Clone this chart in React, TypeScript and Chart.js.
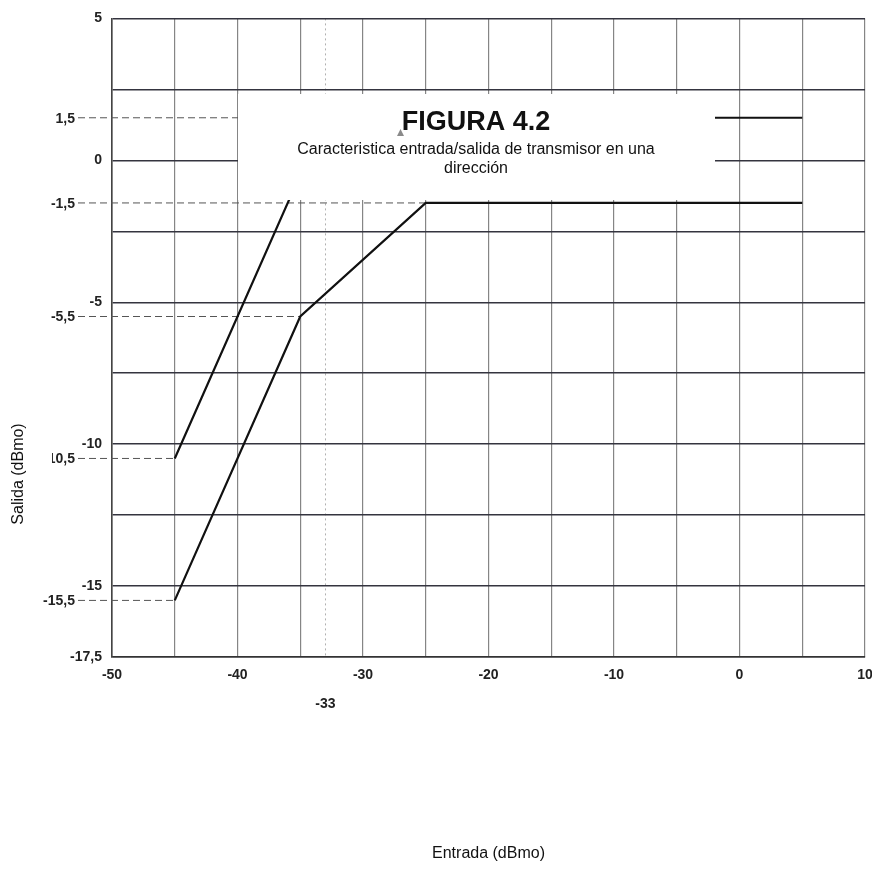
import React, { useEffect, useRef } from 'react';
import { Chart, registerables } from 'chart.js';

Chart.register(...registerables);

// ---- data ----
const xMin = -50;
const xMax = 10;
const yMin = -17.5;
const yMax = 5;
const xLabelTicks = [-50, -40, -30, -20, -10, 0, 10];
const xExtraTicks = [-33];
const yLabelTicks = [5, 0, -5, -10, -15, -17.5];
const levelValues = [1.5, -1.5, -5.5, -10.5, -15.5];
const levelEnds = [-33, -25, -35, -45, -45];

const upperX = [-45, -33, 5];
const upperY = [-10.5, 1.5, 1.5];
const lowerX = [-45, -35, -25, 5];
const lowerY = [-15.5, -5.5, -1.5, -1.5];

const figureTitle = 'FIGURA 4.2';
const figureSubtitle = ['Caracteristica entrada/salida de transmisor en una', 'dirección'];
const yTitle = 'Salida (dBmo)';
const xTitle = 'Entrada (dBmo)';

const fmt = (v: number) => String(v).replace('.', ',');
const SANS = '"Liberation Sans", Arial, Helvetica, sans-serif';
const NARROW = '"Liberation Sans Narrow", "Liberation Sans", Arial, sans-serif';

const noEdgePadding = (s: any) => {
  s.paddingLeft = 0;
  s.paddingRight = 0;
};

const decorPlugin = {
  id: 'decor',
  beforeDatasetsDraw(chart: any) {
    const { ctx, chartArea, scales } = chart;
    const xs = scales.x;
    const ys = scales.y;
    ctx.save();
    levelValues.forEach((v, i) => {
      const py = ys.getPixelForValue(v);
      const px = xs.getPixelForValue(levelEnds[i]);
      ctx.beginPath();
      ctx.setLineDash([7, 4]);
      ctx.strokeStyle = '#555';
      ctx.lineWidth = 1;
      ctx.moveTo(chartArea.left - 34, py);
      ctx.lineTo(px, py);
      ctx.stroke();
      ctx.setLineDash([]);
      ctx.fillStyle = '#222';
      ctx.font = `bold 14px ${NARROW}`;
      ctx.textAlign = 'right';
      ctx.textBaseline = 'middle';
      ctx.fillText(fmt(v), chartArea.left - 37, py + 1);
    });
    ctx.restore();
  },
  afterDraw(chart: any) {
    const { ctx } = chart;
    ctx.save();
    // y axis title with its white backing
    ctx.fillStyle = '#ffffff';
    ctx.fillRect(0, 332, 52, 245);
    ctx.translate(19, 474);
    ctx.rotate(-Math.PI / 2);
    ctx.fillStyle = '#111';
    ctx.font = `16px ${SANS}`;
    ctx.textAlign = 'center';
    ctx.textBaseline = 'middle';
    ctx.fillText(yTitle, 0, 0);
    ctx.restore();

    // figure title box
    ctx.save();
    ctx.fillStyle = '#ffffff';
    ctx.fillRect(238, 94, 477, 106);
    ctx.fillStyle = '#111';
    ctx.textAlign = 'center';
    ctx.textBaseline = 'alphabetic';
    ctx.font = `bold 27px ${SANS}`;
    ctx.fillText(figureTitle, 476, 130);
    ctx.font = `16px ${SANS}`;
    ctx.fillText(figureSubtitle[0], 476, 154);
    ctx.fillText(figureSubtitle[1], 476, 173);
    ctx.fillStyle = '#8a8a8a';
    ctx.beginPath();
    ctx.moveTo(400.5, 129);
    ctx.lineTo(404, 136);
    ctx.lineTo(397, 136);
    ctx.closePath();
    ctx.fill();
    ctx.restore();
  },
};

export default function App() {
  const ref = useRef<HTMLCanvasElement | null>(null);

  useEffect(() => {
    document.body.style.margin = '0';
    document.body.style.background = '#ffffff';
    if (!ref.current) return;
    const tickFont = { family: NARROW, size: 14, weight: 'bold' as const };
    const chart = new Chart(ref.current, {
      type: 'line',
      data: {
        datasets: [
          {
            label: 'upper',
            data: upperX.map((x, i) => ({ x, y: upperY[i] })),
            borderColor: '#111',
            borderWidth: 2.2,
            pointRadius: 0,
            tension: 0,
            fill: false,
            xAxisID: 'x',
            yAxisID: 'y',
          },
          {
            label: 'lower',
            data: lowerX.map((x, i) => ({ x, y: lowerY[i] })),
            borderColor: '#111',
            borderWidth: 2.2,
            pointRadius: 0,
            tension: 0,
            fill: false,
            xAxisID: 'x',
            yAxisID: 'y',
          },
        ],
      },
      options: {
        animation: false,
        responsive: true,
        maintainAspectRatio: false,
        layout: { padding: { left: 0, right: 7, top: 17, bottom: 29 } },
        plugins: {
          legend: { display: false },
          tooltip: { enabled: false },
        },
        scales: {
          x: {
            type: 'linear',
            position: 'bottom',
            min: xMin,
            max: xMax,
            weight: 0,
            afterFit: noEdgePadding,
            ticks: {
              stepSize: 5,
              autoSkip: false,
              maxRotation: 0,
              padding: 10,
              color: '#222',
              font: tickFont,
              callback: (v: any) => (xLabelTicks.includes(Number(v)) ? String(v) : ''),
            },
            grid: {
              drawTicks: false,
              color: '#858585',
              lineWidth: 1.2,
            },
            border: { display: true, color: '#333', width: 1.6 },
          },
          x2: {
            type: 'linear',
            position: 'bottom',
            min: xMin,
            max: xMax,
            weight: 1,
            afterFit: noEdgePadding,
            afterBuildTicks: (s: any) => {
              s.ticks = xExtraTicks.map((v) => ({ value: v }));
            },
            ticks: {
              autoSkip: false,
              maxRotation: 0,
              padding: 2,
              color: '#222',
              font: tickFont,
              callback: (v: any) => String(v),
            },
            grid: {
              drawTicks: false,
              color: '#b0b0b0',
              lineWidth: 1,
            },
            border: { display: false, dash: [2, 3] },
            title: {
              display: true,
              text: xTitle,
              color: '#111',
              font: { family: SANS, size: 16 },
              padding: { top: 129, bottom: 0 },
            },
          },
          y: {
            type: 'linear',
            position: 'left',
            min: yMin,
            max: yMax,
            afterFit: (s: any) => {
              s.width = 112;
            },
            ticks: {
              stepSize: 2.5,
              autoSkip: false,
              padding: 10,
              color: '#222',
              font: tickFont,
              callback: (v: any) => (yLabelTicks.includes(Number(v)) ? fmt(Number(v)) : ''),
            },
            grid: {
              drawTicks: false,
              color: '#34343f',
              lineWidth: 1.6,
            },
            border: { display: true, color: '#444', width: 1.6 },
          },
        },
      },
      plugins: [decorPlugin],
    });
    return () => chart.destroy();
  }, []);

  return (
    <div style={{ width: 872, height: 892, position: 'relative', background: '#fff' }}>
      <canvas ref={ref} />
    </div>
  );
}
